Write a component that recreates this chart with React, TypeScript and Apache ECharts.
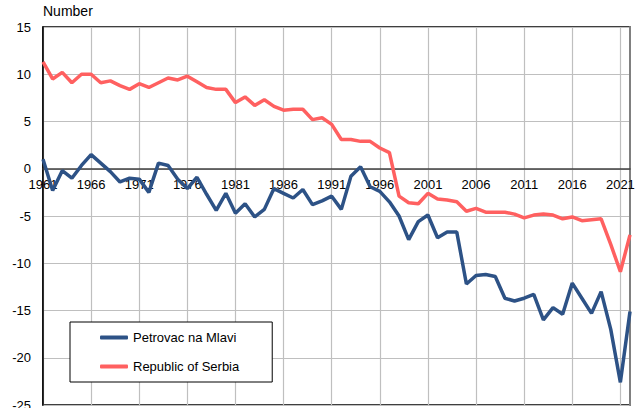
import React, { useEffect, useRef } from "react";
import * as echarts from "echarts";

const years: string[] = Array.from({ length: 62 }, (_, i) => String(1961 + i));

const petrovac: number[] = [
  1.0, -2.3, -0.2, -1.0, 0.35, 1.5, 0.6, -0.3, -1.4, -1.0,
  -1.1, -2.5, 0.6, 0.35, -1.1, -2.1, -0.9, -2.7, -4.4, -2.6,
  -4.7, -3.7, -5.1, -4.3, -2.1, -2.6, -3.1, -2.2, -3.8, -3.4,
  -2.9, -4.3, -0.8, 0.2, -1.9, -2.4, -3.5, -5.0, -7.5, -5.6,
  -4.9, -7.3, -6.7, -6.7, -12.2, -11.3, -11.2, -11.4, -13.7, -14.0,
  -13.7, -13.3, -16.0, -14.7, -15.4, -12.1, -13.7, -15.3, -13.0, -17.0,
  -22.6, -15.1,
];

const serbia: number[] = [
  11.3, 9.5, 10.2, 9.1, 10.0, 10.0, 9.1, 9.3, 8.8, 8.4,
  9.0, 8.6, 9.1, 9.6, 9.4, 9.8, 9.2, 8.6, 8.4, 8.4,
  7.0, 7.6, 6.7, 7.3, 6.6, 6.2, 6.3, 6.3, 5.2, 5.4,
  4.7, 3.1, 3.1, 2.9, 2.9, 2.2, 1.7, -2.9, -3.6, -3.7,
  -2.6, -3.2, -3.3, -3.5, -4.5, -4.2, -4.6, -4.6, -4.6, -4.8,
  -5.2, -4.9, -4.8, -4.9, -5.3, -5.1, -5.5, -5.4, -5.3, -8.0,
  -10.9, -7.0,
];

const seriesNames = ["Petrovac na Mlavi", "Republic of Serbia"];
const yUnit = "Number";

const FONT = "'Liberation Sans', Arial, Helvetica, sans-serif";

const GRID_TOP = 27;
const GRID_BOTTOM_Y = 405;
const Y_MIN = -25;
const Y_MAX = 15;

export default function App() {
  const ref = useRef<HTMLDivElement>(null);
  useEffect(() => {
    document.body.style.margin = "0";
    const chart = echarts.init(ref.current!, undefined, { renderer: "svg" });
    const gridH = GRID_BOTTOM_Y - GRID_TOP;
    const zeroY = GRID_TOP + (Y_MAX / (Y_MAX - Y_MIN)) * gridH;
    chart.setOption({
      animation: false,
      backgroundColor: "#ffffff",
      textStyle: { fontFamily: FONT },
      grid: {
        left: 43,
        right: 14,
        top: GRID_TOP,
        bottom: 408 - GRID_BOTTOM_Y,
        containLabel: false,
        outerBoundsMode: "none",
        show: true,
        borderColor: "#000000",
        borderWidth: 1.5,
        backgroundColor: "transparent",
      },
      graphic: [
        {
          type: "text",
          left: 43,
          top: 4,
          style: { text: yUnit, fontSize: 14, fill: "#000", fontFamily: FONT },
        },
      ],
      legend: {
        orient: "vertical",
        left: 70,
        top: 322,
        backgroundColor: "#ffffff",
        borderColor: "#000000",
        borderWidth: 1,
        padding: [9, 33, 9, 30],
        itemGap: 16,
        itemWidth: 28,
        itemHeight: 4,
        icon: "roundRect",
        textStyle: { fontSize: 13, color: "#000", fontFamily: FONT },
        data: seriesNames,
      },
      xAxis: [
        {
          type: "category",
          data: years,
          boundaryGap: false,
          position: "bottom",
          offset: -(GRID_BOTTOM_Y - zeroY),
          axisLine: { show: true, onZero: false, lineStyle: { color: "#404040", width: 1.5 } },
          axisTick: { show: false },
          axisLabel: {
            interval: 4,
            fontSize: 13,
            color: "#000",
            margin: 9,
            fontFamily: FONT,
            hideOverlap: false,
          },
          splitLine: {
            show: true,
            interval: 4,
            lineStyle: { color: "#bfbfbf", width: 1.2 },
          },
        },
      ],
      yAxis: [
        {
          type: "value",
          min: Y_MIN,
          max: Y_MAX,
          interval: 5,
          axisLine: { show: true, onZero: false, lineStyle: { color: "#000", width: 1.5 } },
          axisTick: { show: false },
          axisLabel: { fontSize: 13, color: "#000", margin: 12, fontFamily: FONT },
          splitLine: { show: true, lineStyle: { color: "#bfbfbf", width: 1.2 } },
        },
        {
          type: "value",
          position: "right",
          min: Y_MIN,
          max: Y_MAX,
          interval: 5,
          axisLine: { show: true, onZero: false, lineStyle: { color: "#808080", width: 2 } },
          axisTick: { show: false },
          axisLabel: { show: false },
          splitLine: { show: false },
        },
      ],
      series: [
        {
          name: seriesNames[0],
          type: "line",
          data: petrovac,
          showSymbol: false,
          symbol: "none",
          z: 3,
          itemStyle: { color: "#2d5286" },
          lineStyle: { color: "#2d5286", width: 3.5 },
        },
        {
          name: seriesNames[1],
          type: "line",
          data: serbia,
          showSymbol: false,
          symbol: "none",
          z: 3,
          itemStyle: { color: "#ff6060" },
          lineStyle: { color: "#ff6060", width: 3.5 },
        },
      ],
    });
    return () => chart.dispose();
  }, []);
  return (
    <div
      ref={ref}
      style={{ position: "absolute", left: 0, top: 0, width: 644, height: 408 }}
    />
  );
}
